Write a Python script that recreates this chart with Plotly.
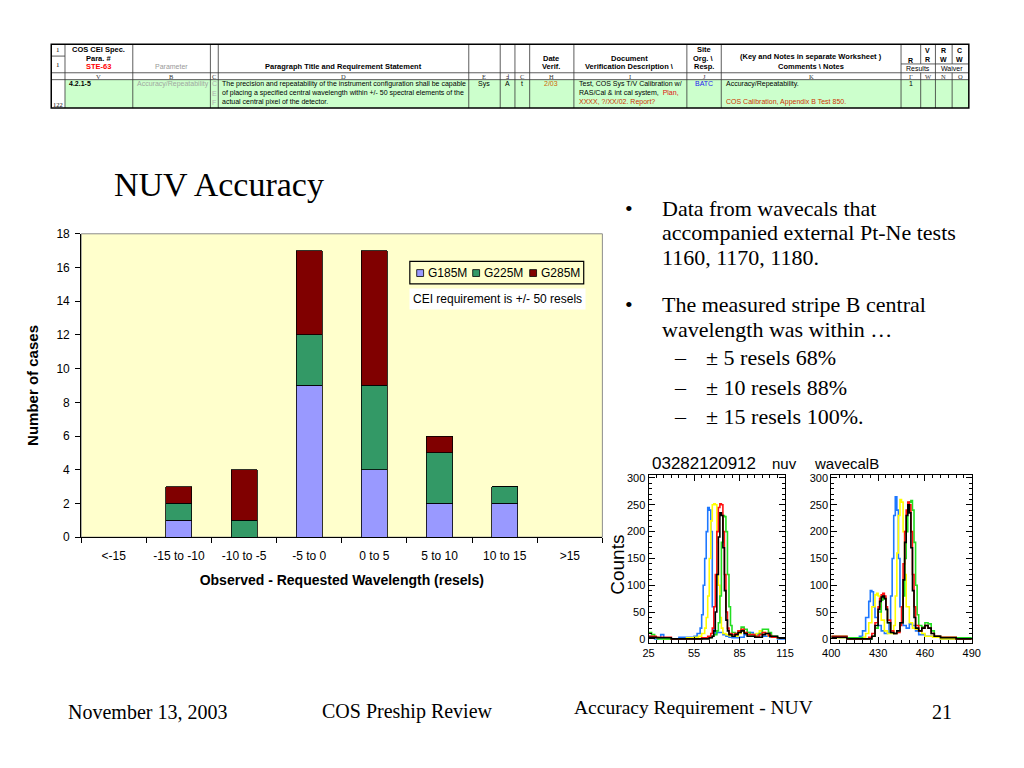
import plotly.graph_objects as go

# ---------------- data ----------------
categories = ["<-15", "-15 to -10", "-10 to -5", "-5 to 0", "0 to 5", "5 to 10", "10 to 15", ">15"]
g185m = [0, 1, 0, 9, 4, 2, 2, 0]
g225m = [0, 1, 1, 3, 5, 3, 1, 0]
g285m = [0, 1, 3, 5, 8, 1, 0, 0]
series_names = ["G185M", "G225M", "G285M"]
series_colors = ["#9999FF", "#339966", "#800000"]

# inset spectra, left panel 25..115, right panel 400..490
left_blue_x = [25, 27, 29, 31, 33, 35, 37, 40, 45, 50, 55, 57, 59, 60, 61, 62, 63, 64, 65, 66, 67, 68, 69, 70, 72, 74, 76, 78, 80, 85, 88, 90, 92, 94, 96, 98, 100, 105, 110, 115]
left_blue_y = [5, 3, 0, 2, 8, 2, 0, 0, 3, 3, 5, 10, 20, 45, 100, 150, 200, 245, 240, 200, 60, 15, 10, 12, 12, 8, 5, 3, 2, 3, 8, 12, 12, 6, 8, 10, 5, 3, 0, 0]
left_yellow_x = [25, 30, 35, 40, 45, 50, 55, 58, 60, 62, 63, 64, 65, 66, 67, 68, 69, 70, 71, 72, 73, 74, 76, 78, 80, 82, 84, 86, 88, 90, 94, 96, 98, 100, 102, 104, 106, 110, 115]
left_yellow_y = [3, 2, 0, 0, 0, 2, 3, 5, 10, 20, 40, 80, 150, 220, 250, 252, 250, 180, 100, 40, 20, 10, 8, 6, 5, 5, 10, 15, 12, 8, 5, 10, 15, 12, 10, 5, 3, 2, 0]
left_green_x = [25, 27, 29, 31, 35, 40, 50, 60, 66, 68, 70, 71, 72, 73, 74, 75, 76, 77, 78, 79, 80, 82, 84, 86, 88, 90, 92, 95, 98, 100, 102, 104, 106, 110, 115]
left_green_y = [12, 8, 3, 0, 0, 0, 0, 2, 5, 8, 15, 30, 80, 180, 230, 228, 200, 120, 60, 25, 12, 10, 15, 22, 18, 12, 8, 5, 10, 18, 18, 12, 5, 2, 0]
left_red_x = [25, 30, 40, 50, 60, 64, 66, 67, 68, 69, 70, 71, 72, 73, 74, 75, 76, 77, 78, 80, 82, 84, 86, 88, 90, 95, 98, 100, 102, 104, 106, 110, 115]
left_red_y = [5, 3, 0, 0, 2, 5, 10, 20, 60, 120, 200, 245, 252, 250, 200, 120, 50, 20, 10, 8, 10, 15, 18, 12, 8, 5, 8, 12, 10, 6, 3, 2, 0]
left_black_x = [25, 30, 40, 50, 60, 65, 67, 68, 69, 70, 71, 72, 73, 74, 75, 76, 77, 78, 80, 82, 84, 86, 88, 90, 95, 100, 102, 105, 110, 115]
left_black_y = [3, 2, 0, 0, 0, 2, 5, 15, 50, 120, 190, 235, 230, 170, 90, 35, 15, 8, 5, 8, 12, 15, 10, 5, 3, 8, 10, 5, 2, 0]

right_blue_x = [400, 405, 410, 415, 418, 420, 422, 424, 425, 426, 427, 428, 430, 432, 434, 436, 437, 438, 439, 440, 441, 442, 443, 444, 446, 448, 450, 452, 454, 456, 460, 465, 470, 480, 490]
right_blue_y = [3, 2, 0, 2, 5, 15, 40, 70, 90, 88, 60, 40, 25, 15, 10, 12, 30, 80, 150, 230, 265, 240, 150, 60, 25, 20, 28, 25, 15, 8, 5, 3, 0, 0, 0]
right_yellow_x = [400, 410, 418, 420, 422, 424, 426, 428, 429, 430, 431, 432, 434, 436, 438, 440, 441, 442, 443, 444, 445, 446, 447, 448, 450, 452, 454, 456, 458, 460, 465, 470, 480, 490]
right_yellow_y = [2, 0, 0, 3, 10, 30, 60, 82, 85, 80, 60, 35, 15, 10, 10, 25, 80, 160, 230, 260, 255, 200, 120, 60, 30, 20, 18, 15, 10, 5, 3, 0, 0, 0]
right_green_x = [400, 410, 420, 426, 428, 430, 432, 433, 434, 435, 436, 438, 440, 442, 444, 446, 447, 448, 449, 450, 451, 452, 453, 454, 455, 456, 458, 460, 462, 464, 466, 470, 480, 490]
right_green_y = [5, 2, 0, 5, 20, 50, 72, 80, 75, 55, 30, 12, 10, 15, 30, 80, 150, 200, 240, 255, 258, 240, 180, 100, 45, 25, 22, 30, 28, 15, 5, 3, 2, 0]
right_red_x = [400, 410, 420, 424, 426, 428, 430, 431, 432, 433, 434, 435, 436, 438, 440, 442, 444, 445, 446, 447, 448, 449, 450, 451, 452, 453, 454, 456, 458, 460, 462, 464, 466, 470, 480, 490]
right_red_y = [5, 0, 0, 3, 10, 30, 60, 75, 82, 85, 80, 60, 35, 15, 10, 12, 25, 60, 140, 200, 240, 255, 250, 200, 120, 60, 25, 15, 20, 25, 20, 10, 5, 3, 0, 0]
right_black_x = [400, 410, 420, 426, 428, 430, 431, 432, 433, 434, 435, 436, 438, 440, 442, 444, 446, 447, 448, 449, 450, 451, 452, 453, 454, 456, 458, 460, 462, 464, 466, 470, 480, 490]
right_black_y = [3, 0, 0, 5, 25, 55, 70, 78, 80, 75, 55, 30, 12, 10, 15, 30, 110, 180, 230, 250, 235, 170, 90, 40, 20, 15, 20, 25, 20, 10, 5, 2, 0, 0]

spectrum_colors = {"blue": "#1E78FF", "yellow": "#FFFF00", "green": "#22DD22", "red": "#FF1010", "black": "#000000"}

# ---------------- helpers ----------------
W, H = 1024, 768


def X(px):
    return px / W


def Y(py):
    return 1 - py / H


SERIF = "Liberation Serif"
SANS = "Liberation Sans"

fig = go.Figure()

# ---------------- main stacked bar chart ----------------
for name, vals, col in zip(series_names, [g185m, g225m, g285m], series_colors):
    fig.add_trace(go.Bar(x=categories, y=vals, name=name, marker=dict(color=col, line=dict(color="#000000", width=0.8)),
                         xaxis="x", yaxis="y", showlegend=False))

# ---------------- inset spectra ----------------
left = [("blue", left_blue_x, left_blue_y), ("yellow", left_yellow_x, left_yellow_y), ("green", left_green_x, left_green_y),
        ("red", left_red_x, left_red_y), ("black", left_black_x, left_black_y)]
right = [("blue", right_blue_x, right_blue_y), ("yellow", right_yellow_x, right_yellow_y), ("green", right_green_x, right_green_y),
         ("red", right_red_x, right_red_y), ("black", right_black_x, right_black_y)]
for c, xs, ys in left:
    fig.add_trace(go.Scatter(x=xs, y=ys, mode="lines", line=dict(color=spectrum_colors[c], width=1.6, shape="hv"),
                             xaxis="x2", yaxis="y2", showlegend=False))
for c, xs, ys in right:
    fig.add_trace(go.Scatter(x=xs, y=ys, mode="lines", line=dict(color=spectrum_colors[c], width=1.6, shape="hv"),
                             xaxis="x3", yaxis="y3", showlegend=False))

inset_axis = dict(showline=True, linecolor="black", linewidth=1, mirror="ticks", ticks="inside", ticklen=6,
                  tickcolor="black", showgrid=False, zeroline=False, tickfont=dict(family=SANS, size=11, color="black"),
                  minor=dict(ticks="inside", ticklen=3, nticks=6, tickcolor="black"))

fig.update_layout(
    width=W, height=H, autosize=False,
    margin=dict(l=0, r=0, t=0, b=0),
    paper_bgcolor="white", plot_bgcolor="white",
    barmode="stack", bargap=0.6, showlegend=False,
    font=dict(family=SANS, color="black"),
    xaxis=dict(domain=[X(73.5), X(604)], anchor="y", type="category", tickson="boundaries", ticks="outside",
               ticklen=5, tickcolor="black", showline=True, linecolor="black", linewidth=1, showgrid=False,
               ticklabelstandoff=7,
               tickfont=dict(family=SANS, size=12, color="black"),
               title=dict(text="<b>Observed - Requested Wavelength (resels)</b>", font=dict(family=SANS, size=14, color="black"), standoff=13)),
    yaxis=dict(domain=[Y(540), Y(231)], anchor="x", range=[0, 18], dtick=2, ticks="outside", ticklen=5,
               tickcolor="black", showline=True, linecolor="black", linewidth=1, showgrid=False, zeroline=False,
               ticklabelstandoff=3,
               tickfont=dict(family=SANS, size=12, color="black"),
               title=dict(text="<b>Number of cases</b>", font=dict(family=SANS, size=15, color="black"), standoff=14)),
    xaxis2=dict(domain=[X(651), X(790)], anchor="y2", range=[25, 115], tick0=25, dtick=30, **inset_axis),
    yaxis2=dict(domain=[Y(648), Y(477)], anchor="x2", range=[-8, 305], tick0=0, dtick=50, **inset_axis),
    xaxis3=dict(domain=[X(837), X(980)], anchor="y3", range=[400, 490], tick0=400, dtick=30, **inset_axis),
    yaxis3=dict(domain=[Y(648), Y(477)], anchor="x3", range=[-8, 305], tick0=0, dtick=50, **inset_axis),
)

shapes = []
# yellow plot area + gray border for main chart
shapes.append(dict(type="rect", xref="x domain", yref="y domain", x0=0, x1=1, y0=0, y1=1,
                   fillcolor="#FFFFCC", line=dict(color="#8C8C8C", width=1), layer="below"))

# manual legend box
shapes.append(dict(type="rect", xref="paper", yref="paper", x0=X(408), x1=X(585), y0=Y(282), y1=Y(259),
                   fillcolor="#FFFFCC", line=dict(color="black", width=1.2)))
legend_sq_x = [415, 472, 530]
legend_tx_x = [424, 481, 539]
for sx, col in zip(legend_sq_x, series_colors):
    shapes.append(dict(type="rect", xref="paper", yref="paper", x0=X(sx), x1=X(sx + 7), y0=Y(274.5), y1=Y(267.5),
                       fillcolor=col, line=dict(color="black", width=0.8)))

# ---------------- top table ----------------
cols = [43, 57, 126, 205, 213, 468, 500, 515, 530, 575, 690, 725, 908, 928, 943, 960, 977]
t_top, t_hdr, t_let, t_bot = 38, 67, 74, 103
shapes.append(dict(type="rect", xref="paper", yref="paper", x0=X(57), x1=X(977), y0=Y(t_bot), y1=Y(t_let),
                   fillcolor="#CCFFCC", line=dict(width=0), layer="below"))
line_c = "#333333"


def hline(x0, x1, y, w=0.8, c=line_c):
    shapes.append(dict(type="line", xref="paper", yref="paper", x0=X(x0), x1=X(x1), y0=Y(y), y1=Y(y),
                       line=dict(color=c, width=w)))


def vline(x, y0, y1, w=0.8, c=line_c):
    shapes.append(dict(type="line", xref="paper", yref="paper", x0=X(x), x1=X(x), y0=Y(y0), y1=Y(y1),
                       line=dict(color=c, width=w)))


hline(43, 977, t_hdr)
hline(43, 977, t_let)
hline(43, 57, 50)
hline(908, 977, 58)
for cx in cols[1:-1]:
    if cx in (928, 960):
        vline(cx, t_top, 58)
        vline(cx, t_hdr, t_bot)
    else:
        vline(cx, t_top, t_bot)
shapes.append(dict(type="rect", xref="paper", yref="paper", x0=X(43), x1=X(977), y0=Y(t_bot), y1=Y(t_top),
                   line=dict(color="black", width=1.5)))

annotations = []


def txt(s, px, py, size=7, color="black", anchor="center", family=SANS, bold=False):
    if bold:
        s = "<b>" + s + "</b>"
    annotations.append(dict(text=s, x=X(px), y=Y(py), xref="paper", yref="paper", showarrow=False,
                            xanchor=anchor, yanchor="middle", font=dict(family=family, size=size, color=color)))


# header
txt("1", 50, 44, 7, family=SERIF)
txt("1", 50, 59, 7, family=SERIF)
txt("COS CEI Spec.", 91, 43, 7.5, bold=True)
txt("Para. #", 91, 52, 7.5, bold=True)
txt("STE-63", 91, 61, 7.5, color="#FF0000", bold=True)
txt("Parameter", 165, 61, 7, color="#999999")
txt("Paragraph Title and Requirement Statement", 340, 61, 7.5, bold=True)
txt("Date", 552, 52, 7.5, bold=True)
txt("Verif.", 552, 61, 7.5, bold=True)
txt("Document", 632, 52, 7.5, bold=True)
txt("Verification Description \\", 632, 61, 7.5, bold=True)
txt("Site", 707, 43, 7.5, bold=True)
txt("Org. \\", 707, 52, 7.5, bold=True)
txt("Resp.", 707, 61, 7.5, bold=True)
txt("(Key and Notes in separate Worksheet )", 816, 50, 7.5, bold=True)
txt("Comments \\ Notes", 816, 61, 7.5, bold=True)
txt("R", 918, 54, 7, bold=True)
txt("V", 935, 44, 7, bold=True)
txt("R", 935, 53, 7, bold=True)
txt("R", 951, 44, 7, bold=True)
txt("W", 951, 53, 7, bold=True)
txt("C", 968, 44, 7, bold=True)
txt("W", 968, 53, 7, bold=True)
txt("Results", 925, 62.5, 7)
txt("Waiver", 960, 62.5, 7)
col_letters = ["V", "B", "C", "D", "E", "Ⅎ", "C", "H", "I", "J", "K", "Γ", "W", "N", "O"]
for i, letter in enumerate(col_letters):
    cx = (cols[i + 1] + cols[i + 2]) / 2
    txt(letter, cx, 70.5, 6.5, family=SERIF, color="#333333")

# data row
txt("122", 50, 99, 6.5, family=SERIF)
txt("4.2.1-5", 59, 78, 7, anchor="left", bold=True)
txt("Accuracy/Repeatability", 128, 78, 7, anchor="left", color="#A0A8A0")
txt("C", 209, 78, 7, color="#B0B0B0")
txt("E", 209, 88, 7, color="#B0B0B0")
txt("F", 209, 97, 7, color="#B0B0B0")
txt("The precision and repeatability of the instrument configuration shall be capable", 215, 78, 7, anchor="left")
txt("of placing a specified central wavelength within +/- 50 spectral elements of the", 215, 87.5, 7, anchor="left")
txt("actual central pixel of the detector.", 215, 97, 7, anchor="left")
txt("Sys", 484, 78, 7)
txt("A", 507, 78, 7)
txt("t", 522, 78, 7)
txt("2/03", 552, 78, 7, color="#CC6600")
txt("Test, COS Sys T/V Calibration w/", 578, 78, 7, anchor="left")
txt("RAS/Cal & int cal system,  <span style='color:#E01010'>Plan,</span>", 578, 87.5, 7, anchor="left")
txt("XXXX, ?/XX/02. Report?", 578, 97, 7, anchor="left", color="#CC3300")
txt("BATC", 707, 78, 7, color="#2222EE")
txt("Accuracy/Repeatability.", 728, 78, 7, anchor="left")
txt("COS Calibration, Appendix B Test 850.", 728, 97, 7, anchor="left", color="#CC3300")
txt("1", 918, 78, 7)

# ---------------- slide title, legend texts, bullets ----------------
txt("NUV Accuracy", 105, 181, 34, anchor="left", family=SERIF)
for name, tx in zip(series_names, legend_tx_x):
    txt(name, tx, 271, 12, anchor="left")
annotations.append(dict(text="CEI requirement is +/- 50 resels", x=X(497), y=Y(297), xref="paper", yref="paper",
                        showarrow=False, xanchor="center", yanchor="middle", bgcolor="white", borderpad=3,
                        font=dict(family=SANS, size=12, color="black")))

bullet_size = 22
txt("•", 631, 205, bullet_size, family=SERIF)
txt("Data from wavecals that", 663, 205, bullet_size, anchor="left", family=SERIF)
txt("accompanied external Pt-Ne tests", 663, 230, bullet_size, anchor="left", family=SERIF)
txt("1160, 1170, 1180.", 663, 255, bullet_size, anchor="left", family=SERIF)
txt("•", 631, 303, bullet_size, family=SERIF)
txt("The measured stripe B central", 663, 303, bullet_size, anchor="left", family=SERIF)
txt("wavelength was within …", 663, 328, bullet_size, anchor="left", family=SERIF)
for yy, s in [(357, "± 5 resels 68%"), (388, "± 10 resels 88%"), (417, "± 15 resels 100%.")]:
    txt("–", 684, yy, bullet_size, family=SERIF)
    txt(s, 707, yy, bullet_size, anchor="left", family=SERIF)

# inset labels
txt("03282120912", 652, 465, 17, anchor="left")
txt("nuv", 775, 465, 15, anchor="left")
txt("wavecalB", 817, 465, 15, anchor="left")
annotations.append(dict(text="Counts", x=X(620), y=Y(568), xref="paper", yref="paper", showarrow=False,
                        textangle=-90, xanchor="center", yanchor="middle", font=dict(family=SANS, size=19, color="black")))

# footer
txt("November 13, 2003", 141, 718, 20, family=SERIF)
txt("COS Preship Review", 406, 718, 20, family=SERIF)
txt("Accuracy Requirement - NUV", 697, 714, 19.5, family=SERIF)
txt("21", 950, 718, 20, family=SERIF)

fig.update_layout(shapes=shapes, annotations=annotations)

fig.write_html("out.html", config={"displayModeBar": False},
               post_script="document.body.style.margin='0';document.body.style.overflow='hidden';")
